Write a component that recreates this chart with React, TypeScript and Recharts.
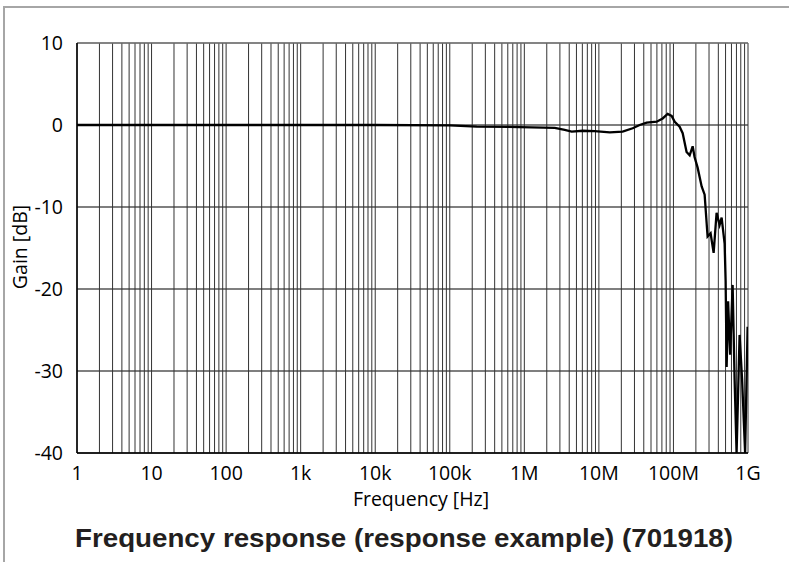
import React from 'react';
import { LineChart, Line, XAxis, YAxis, CartesianGrid, ReferenceLine } from 'recharts';

// Measured gain of the input stage versus frequency
const frequencyHz = [
  1, 10, 100, 1e3, 1e4, 1e5, 2.3e5, 8.7e5, 2.56e6, 3.48e6, 4.32e6, 6.06e6, 8.79e6,
  1.4e7, 2.08e7, 2.84e7, 3.52e7, 4.37e7, 5.96e7, 7.17e7, 8.36e7, 9.46e7, 1.04e8,
  1.21e8, 1.33e8, 1.5e8, 1.65e8, 1.81e8, 1.92e8, 2.11e8, 2.39e8, 2.62e8, 2.87e8,
  3.15e8, 3.46e8, 3.79e8, 4.16e8, 4.43e8, 4.86e8, 5.01e8, 5.17e8, 5.41e8, 5.76e8,
  6.22e8, 6.61e8, 7.03e8, 7.71e8, 8.33e8, 9.15e8, 9.57e8, 9.88e8,
];
const gainDb = [
  0, 0, 0, 0, 0, -0.05, -0.2, -0.25, -0.35, -0.6, -0.8, -0.7, -0.75,
  -0.9, -0.8, -0.4, 0, 0.3, 0.4, 0.8, 1.35, 1.1, 0.4,
  -0.2, -1.0, -3.3, -3.7, -2.6, -3.9, -5.2, -7.5, -8.5, -13.6,
  -13.2, -15.6, -10.7, -12.2, -11.3, -14.5, -19, -29.5, -21.5, -28,
  -19.5, -31, -40, -25.6, -31, -40, -31, -24.6,
];

// Axis ticks
const decades = [1, 10, 100, 1e3, 1e4, 1e5, 1e6, 1e7, 1e8, 1e9];
const decadeLabels = ['1', '10', '100', '1k', '10k', '100k', '1M', '10M', '100M', '1G'];
const multiples = [1, 2, 3, 4, 5, 6, 7, 8, 9];
const gainTicks = [-40, -30, -20, -10, 0, 10];

// Grid at every 1..9 multiple of each decade
const gridFreqs: number[] = [];
decades.forEach((d) => {
  if (d === 1e9) {
    gridFreqs.push(d);
    return;
  }
  multiples.forEach((m) => gridFreqs.push(d * m));
});

const data = frequencyHz.map((f, i) => ({ f, gain: gainDb[i] }));

const FONT = '"Open Sans", "Noto Sans", sans-serif';
const LABEL_SIZE = 19.5;

const DecadeTick = (props: any) => {
  const { x, y, payload } = props;
  const idx = decades.findIndex((d) => Math.abs(d - payload.value) < d * 1e-6);
  if (idx < 0) return null;
  return (
    <text x={x} y={y + 19} textAnchor="middle" fontFamily={FONT} fontSize={LABEL_SIZE} fill="#000">
      {decadeLabels[idx]}
    </text>
  );
};

const HLine = (props: any) => {
  const { x1, x2, y1, y2 } = props;
  return <line x1={x1} x2={x2} y1={y1} y2={y2} stroke="#000" strokeWidth={1.2} />;
};

const VLine = (props: any) => {
  const { x1, x2, y1, y2 } = props;
  return <line x1={x1} x2={x2} y1={y1} y2={y2} stroke="#333" strokeWidth={1} />;
};

export default function App() {
  return (
    <div style={{ position: 'absolute', left: 0, top: 0, width: 789, height: 562, background: '#fff' }}>
      <div
        style={{
          position: 'absolute',
          left: 3,
          top: 6,
          right: 0,
          bottom: 0,
          borderTop: '2px solid #a6a6a6',
          borderLeft: '2px solid #a6a6a6',
        }}
      />
      <LineChart
        width={789}
        height={562}
        data={data}
        margin={{ top: 43, right: 41, left: 0, bottom: 79 }}
        style={{ position: 'absolute', left: 0, top: 0 }}
      >
        <CartesianGrid stroke="#333" strokeOpacity={1} vertical={VLine} horizontal={HLine} />
        <XAxis
          dataKey="f"
          type="number"
          scale="log"
          domain={[1, 1e9]}
          ticks={gridFreqs}
          interval={0}
          allowDataOverflow
          tickLine={false}
          axisLine={{ stroke: '#000', strokeWidth: 1.5 }}
          tick={<DecadeTick />}
          height={30}
        />
        <YAxis
          type="number"
          domain={[-40, 10]}
          ticks={gainTicks}
          interval={0}
          tickLine={false}
          axisLine={{ stroke: '#000', strokeWidth: 1.5 }}
          tickMargin={8}
          tick={{ fontFamily: FONT, fontSize: LABEL_SIZE, fill: '#000' }}
          width={77}
        />
        <ReferenceLine y={10} stroke="#8a8a8a" strokeWidth={1.2} />
        <Line
          type="linear"
          dataKey="gain"
          stroke="#000"
          strokeWidth={2.3}
          dot={false}
          isAnimationActive={false}
        />
      </LineChart>
      <svg
        width={789}
        height={562}
        style={{ position: 'absolute', left: 0, top: 0, pointerEvents: 'none' }}
      >
        <text
          x={19}
          y={247}
          transform="rotate(-90 19 247)"
          textAnchor="middle"
          dominantBaseline="central"
          fontFamily={FONT}
          fontSize={LABEL_SIZE}
          fill="#000"
        >
          Gain [dB]
        </text>
        <text x={421} y={506} textAnchor="middle" fontFamily={FONT} fontSize={LABEL_SIZE} fill="#000">
          Frequency [Hz]
        </text>
        <text
          x={404}
          y={547}
          textAnchor="middle"
          fontFamily='"Liberation Sans", Arial, sans-serif'
          fontWeight="bold"
          fontSize={25}
          textLength={658}
          lengthAdjust="spacingAndGlyphs"
          fill="#231f20"
        >
          Frequency response (response example) (701918)
        </text>
      </svg>
    </div>
  );
}
